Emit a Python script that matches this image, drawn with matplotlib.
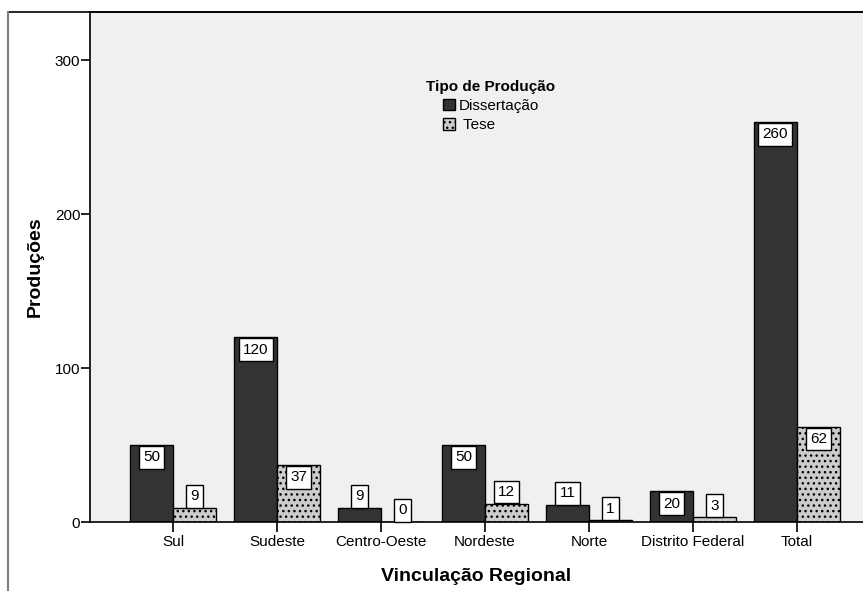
import matplotlib.pyplot as plt
from matplotlib.lines import Line2D

plt.rcParams['font.family'] = ['Liberation Sans', 'DejaVu Sans']
plt.rcParams['hatch.linewidth'] = 1.0

regioes = ["Sul", "Sudeste", "Centro-Oeste", "Nordeste", "Norte", "Distrito Federal", "Total"]
dissertacao = [50, 120, 9, 50, 11, 20, 260]
tese = [9, 37, 0, 12, 1, 3, 62]
yticks = [0, 100, 200, 300]

fig = plt.figure(figsize=(8.63, 5.91), dpi=100)
ax = fig.add_axes([90 / 863, 69 / 591, 773 / 863, 510 / 591])
ax.set_facecolor('#f0f0f0')

x = list(range(len(regioes)))
w = 0.414
b1 = ax.bar(x, dissertacao, width=-w, align='edge', color='#333333',
            edgecolor='black', linewidth=1, label='Dissertação')
b2 = ax.bar(x, tese, width=w, align='edge', color='#cccccc', hatch='...',
            edgecolor='black', linewidth=1, label=' Tese')

ax.set_xlim(-0.8, 6.635)
ax.set_ylim(0, 331.4)
ax.set_xticks(x)
ax.set_xticklabels(regioes)
ax.set_yticks(yticks)
ax.tick_params(axis='x', length=7, width=1.2, pad=2, labelsize=11)
ax.tick_params(axis='y', length=6.5, width=1.2, pad=0.5, labelsize=11)
ax.spines['right'].set_visible(False)
for s in ('left', 'bottom', 'top'):
    ax.spines[s].set_linewidth(1.2)

# value boxes: inside the bar top when it fits, otherwise sitting on the bar
box = dict(boxstyle='square,pad=0.28', facecolor='white', edgecolor='black', linewidth=1)
for bars, vals in ((b1, dissertacao), (b2, tese)):
    for p, v in zip(bars, vals):
        cx = p.get_x() + p.get_width() / 2
        if v > 16:
            ax.annotate(str(v), (cx, v), xytext=(0, -3.9), textcoords='offset points',
                        ha='center', va='top', fontsize=11, bbox=box, zorder=5)
        else:
            ax.annotate(str(v), (cx, v), xytext=(0, 3.4), textcoords='offset points',
                        ha='center', va='bottom', fontsize=11, bbox=box, zorder=5)

ax.set_ylabel('Produções', fontsize=14, fontweight='bold', labelpad=8)
ax.set_xlabel('Vinculação Regional', fontsize=14, fontweight='bold', labelpad=14)

leg = ax.legend(loc='upper center', bbox_to_anchor=(491 / 863, 1 - 72 / 591),
                bbox_transform=fig.transFigure, frameon=False, fontsize=11,
                title='Tipo de Produção', title_fontproperties={'weight': 'bold', 'size': 11},
                handlelength=0.75, handleheight=0.75, handletextpad=0.25,
                labelspacing=0.35, borderpad=0)

# outer frame of the chart
fig.add_artist(Line2D([8 / 863, 1], [1 - 12 / 591] * 2, color='black', linewidth=1.2))
fig.add_artist(Line2D([8 / 863] * 2, [0, 1 - 12 / 591], color='#808080', linewidth=1.5))

fig.savefig('out.png', dpi=100)
